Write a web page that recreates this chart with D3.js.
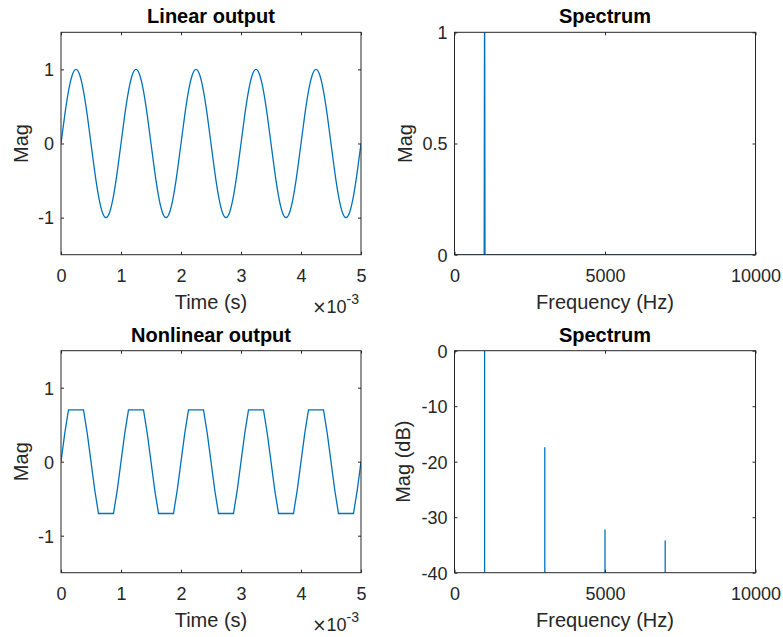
<!DOCTYPE html>
<html>
<head>
<meta charset="utf-8">
<script src="https://cdn.jsdelivr.net/npm/d3@7/dist/d3.min.js"></script>
<style>
  html, body { margin: 0; padding: 0; background: #fff; }
  svg { display: block; font-family: "Liberation Sans", Arial, Helvetica, sans-serif; }
</style>
</head>
<body>
<svg id="chart" width="783" height="637"></svg>
<script>
// ---------- DATA ----------
// time axis in units of 1e-3 s (ms), sampled every 1/16 of a 1 kHz period
const timeMs = [
  0,0.0625,0.125,0.1875,0.25,0.3125,0.375,0.4375,0.5,0.5625,0.625,0.6875,0.75,0.8125,0.875,0.9375,
  1,1.0625,1.125,1.1875,1.25,1.3125,1.375,1.4375,1.5,1.5625,1.625,1.6875,1.75,1.8125,1.875,1.9375,
  2,2.0625,2.125,2.1875,2.25,2.3125,2.375,2.4375,2.5,2.5625,2.625,2.6875,2.75,2.8125,2.875,2.9375,
  3,3.0625,3.125,3.1875,3.25,3.3125,3.375,3.4375,3.5,3.5625,3.625,3.6875,3.75,3.8125,3.875,3.9375,
  4,4.0625,4.125,4.1875,4.25,4.3125,4.375,4.4375,4.5,4.5625,4.625,4.6875,4.75,4.8125,4.875,4.9375,
  5
];
const linearOut = [
  0,0.383,0.707,0.924,1,0.924,0.707,0.383,0,-0.383,-0.707,-0.924,-1,-0.924,-0.707,-0.383,
  0,0.383,0.707,0.924,1,0.924,0.707,0.383,0,-0.383,-0.707,-0.924,-1,-0.924,-0.707,-0.383,
  0,0.383,0.707,0.924,1,0.924,0.707,0.383,0,-0.383,-0.707,-0.924,-1,-0.924,-0.707,-0.383,
  0,0.383,0.707,0.924,1,0.924,0.707,0.383,0,-0.383,-0.707,-0.924,-1,-0.924,-0.707,-0.383,
  0,0.383,0.707,0.924,1,0.924,0.707,0.383,0,-0.383,-0.707,-0.924,-1,-0.924,-0.707,-0.383,
  0
];
const nonlinearOut = [
  0,0.383,0.7,0.7,0.7,0.7,0.7,0.383,0,-0.383,-0.7,-0.7,-0.7,-0.7,-0.7,-0.383,
  0,0.383,0.7,0.7,0.7,0.7,0.7,0.383,0,-0.383,-0.7,-0.7,-0.7,-0.7,-0.7,-0.383,
  0,0.383,0.7,0.7,0.7,0.7,0.7,0.383,0,-0.383,-0.7,-0.7,-0.7,-0.7,-0.7,-0.383,
  0,0.383,0.7,0.7,0.7,0.7,0.7,0.383,0,-0.383,-0.7,-0.7,-0.7,-0.7,-0.7,-0.383,
  0,0.383,0.7,0.7,0.7,0.7,0.7,0.383,0,-0.383,-0.7,-0.7,-0.7,-0.7,-0.7,-0.383,
  0
];
// linear spectrum (magnitude)
const linSpecFreq = [0, 990, 1000, 1010, 10000];
const linSpecMag  = [0, 0, 1, 0, 0];
// nonlinear spectrum (dB), harmonic peaks
const nlSpecFreq = [1000, 3000, 5000, 7000];
const nlSpecDb   = [0, -17.4, -32.2, -34.2];

// tick values / labels
const timeTicks = [0, 1, 2, 3, 4, 5];
const timeTickLabels = ["0", "1", "2", "3", "4", "5"];
const magTicks = [-1, 0, 1];
const magTickLabels = ["-1", "0", "1"];
const freqTicks = [0, 5000, 10000];
const freqTickLabels = ["0", "5000", "10000"];
const linSpecTicks = [0, 0.5, 1];
const linSpecTickLabels = ["0", "0.5", "1"];
const dbTicks = [-40, -30, -20, -10, 0];
const dbTickLabels = ["-40", "-30", "-20", "-10", "0"];

// ---------- DRAWING ----------
const svg = d3.select("#chart");
const AX = "#262626";
const LINE = "#0072BD";
let clipId = 0;

function panel(o) {
  const x = d3.scaleLinear().domain(o.xDomain).range([o.left, o.right]);
  const y = d3.scaleLinear().domain(o.yDomain).range([o.bottom, o.top]);
  const g = svg.append("g");
  const id = "clip" + (clipId++);
  svg.append("clipPath").attr("id", id).append("rect")
    .attr("x", o.left).attr("y", o.top)
    .attr("width", o.right - o.left).attr("height", o.bottom - o.top);

  // data
  const dg = g.append("g").attr("clip-path", `url(#${id})`);
  o.draw(dg, x, y);

  const tl = 3;
  const fmtX = d => o.xLabels[o.xTicks.indexOf(d)];
  const fmtY = d => o.yLabels[o.yTicks.indexOf(d)];
  const bottomAx = g.append("g").attr("transform", `translate(0,${o.bottom})`)
    .call(d3.axisBottom(x).tickValues(o.xTicks).tickFormat(fmtX).tickSizeInner(-tl).tickSizeOuter(0).tickPadding(10));
  const topAx = g.append("g").attr("transform", `translate(0,${o.top})`)
    .call(d3.axisTop(x).tickValues(o.xTicks).tickFormat("").tickSizeInner(-tl).tickSizeOuter(0));
  const leftAx = g.append("g").attr("transform", `translate(${o.left},0)`)
    .call(d3.axisLeft(y).tickValues(o.yTicks).tickFormat(fmtY).tickSizeInner(-tl).tickSizeOuter(0).tickPadding(8));
  const rightAx = g.append("g").attr("transform", `translate(${o.right},0)`)
    .call(d3.axisRight(y).tickValues(o.yTicks).tickFormat("").tickSizeInner(-tl).tickSizeOuter(0));
  [bottomAx, topAx, leftAx, rightAx].forEach(a => {
    a.select(".domain").remove();
    a.selectAll(".tick line").attr("stroke", AX).attr("stroke-width", 1);
    a.selectAll("text").attr("fill", AX).attr("font-size", 18)
      .attr("font-family", "Liberation Sans, Arial, sans-serif");
  });
  bottomAx.selectAll("text").attr("dy", null).attr("y", 27.5);
  leftAx.selectAll("text").attr("x", -7).attr("dy", "0.35em");

  // box
  g.append("rect").attr("x", o.left).attr("y", o.top)
    .attr("width", o.right - o.left).attr("height", o.bottom - o.top)
    .attr("fill", "none").attr("stroke", AX).attr("stroke-width", 1);

  // title
  g.append("text").attr("x", (o.left + o.right) / 2).attr("y", o.top - 9)
    .attr("text-anchor", "middle").attr("font-weight", "bold").attr("font-size", 20)
    .attr("fill", "#000").text(o.title);
  // x label
  g.append("text").attr("x", (o.left + o.right) / 2).attr("y", o.bottom + 54.5)
    .attr("text-anchor", "middle").attr("font-size", 20).attr("fill", AX).text(o.xLabel);
  // y label
  g.append("text").attr("transform", `translate(${o.yLabelX},${(o.top + o.bottom) / 2}) rotate(-90)`)
    .attr("text-anchor", "middle").attr("font-size", 20).attr("fill", AX).text(o.yLabel);
  // exponent
  if (o.exponent) {
    const t = g.append("text").attr("x", o.right - 2).attr("y", o.bottom + 58.5)
      .attr("text-anchor", "end").attr("font-size", 18).attr("fill", AX);
    t.append("tspan").attr("font-family", "DejaVu Sans").attr("font-size", 17).text("\u00d7");
    t.append("tspan").text("10");
    t.append("tspan").attr("dy", -9).attr("font-size", 14).text(o.exponent);
  }
}

const colL = [61, 361], colR = [454.5, 755.5];
const rowT = [32.3, 254.7], rowB = [350.7, 572.7];

function timeLine(vals, curve) {
  return (g, x, y) => {
    const pts = timeMs.map((t, i) => [t, vals[i]]);
    g.append("path").datum(pts)
      .attr("d", d3.line().x(d => x(d[0])).y(d => y(d[1])).curve(curve))
      .attr("fill", "none").attr("stroke", LINE).attr("stroke-width", 1.3);
  };
}

panel({
  left: colL[0], right: colL[1], top: rowT[0], bottom: rowT[1],
  xDomain: [0, 5], yDomain: [-1.5, 1.5],
  xTicks: timeTicks, xLabels: timeTickLabels, yTicks: magTicks, yLabels: magTickLabels,
  title: "Linear output", xLabel: "Time (s)", yLabel: "Mag", yLabelX: 28, exponent: "-3",
  draw: timeLine(linearOut, d3.curveNatural)
});

panel({
  left: colR[0], right: colR[1], top: rowT[0], bottom: rowT[1],
  xDomain: [0, 10000], yDomain: [0, 1],
  xTicks: freqTicks, xLabels: freqTickLabels, yTicks: linSpecTicks, yLabels: linSpecTickLabels,
  title: "Spectrum", xLabel: "Frequency (Hz)", yLabel: "Mag", yLabelX: 412,
  draw: (g, x, y) => {
    const pts = linSpecFreq.map((f, i) => [f, linSpecMag[i]]);
    g.append("path").datum(pts)
      .attr("d", d3.line().x(d => x(d[0])).y(d => y(d[1])))
      .attr("fill", "none").attr("stroke", LINE).attr("stroke-width", 1.5);
  }
});

panel({
  left: colL[0], right: colL[1], top: rowB[0], bottom: rowB[1],
  xDomain: [0, 5], yDomain: [-1.5, 1.5],
  xTicks: timeTicks, xLabels: timeTickLabels, yTicks: magTicks, yLabels: magTickLabels,
  title: "Nonlinear output", xLabel: "Time (s)", yLabel: "Mag", yLabelX: 28, exponent: "-3",
  draw: timeLine(nonlinearOut, d3.curveLinear)
});

panel({
  left: colR[0], right: colR[1], top: rowB[0], bottom: rowB[1],
  xDomain: [0, 10000], yDomain: [-40, 0],
  xTicks: freqTicks, xLabels: freqTickLabels, yTicks: dbTicks, yLabels: dbTickLabels,
  title: "Spectrum", xLabel: "Frequency (Hz)", yLabel: "Mag (dB)", yLabelX: 410,
  draw: (g, x, y) => {
    nlSpecFreq.forEach((f, i) => {
      g.append("path").datum([[f, -40], [f, nlSpecDb[i]]])
        .attr("d", d3.line().x(d => x(d[0])).y(d => y(d[1])))
        .attr("fill", "none").attr("stroke", LINE).attr("stroke-width", 1.3);
    });
  }
});
</script>
</body>
</html>
